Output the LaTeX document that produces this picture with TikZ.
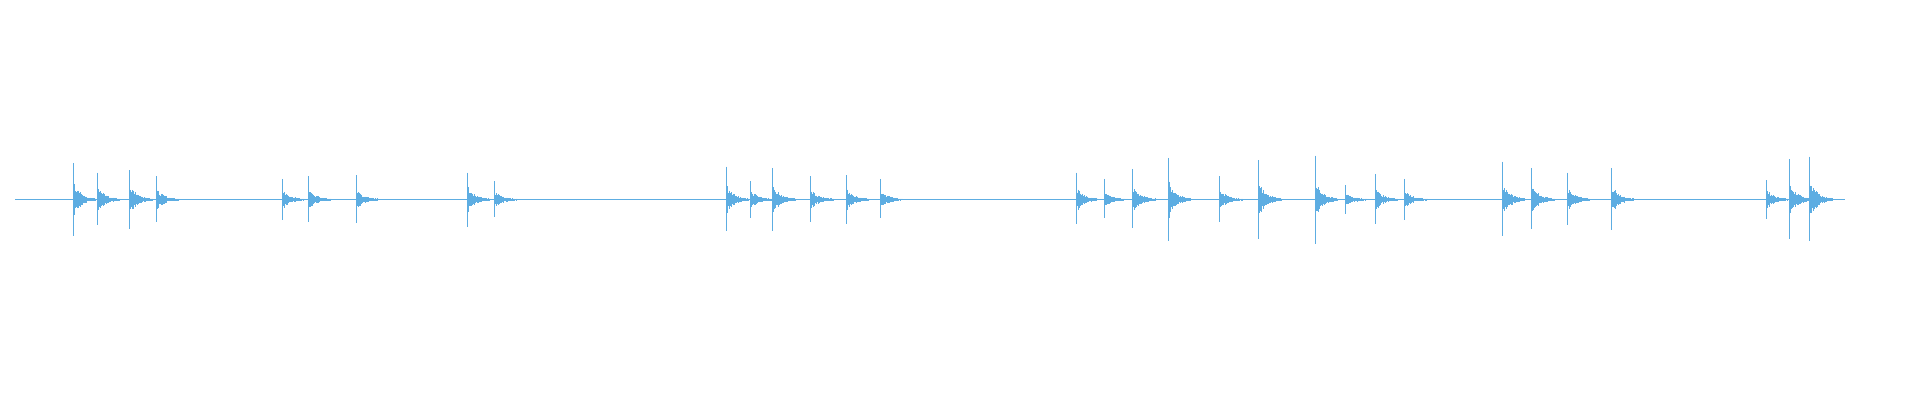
\documentclass[tikz,border=0pt]{standalone}
\definecolor{wavec}{HTML}{5DADE2}
\begin{document}
\begin{tikzpicture}[x=1pt,y=-1pt,wave/.style={draw=wavec,line width=1pt}]
\useasboundingbox (0,0) rectangle (1920,400);
\pgfmathsetseed{7}
\draw[wave] (15,199.6) -- (1845,199.6);
\foreach \x/\u/\d in {60/133/193,80/141/184,106/139/187,128/144/181,231/146/180,252/144/181,291/143/182,382/141/185,404/148/177,593/136/189,613/148/178,631/137/189,662/144/181,691/143/183,719/146/178,879/141/183,902/146/178,925/138/186,954/129/197,996/144/181,1028/131/195,1074/127/199,1099/151/175,1123/142/183,1147/146/180,1227/132/193,1251/137/187,1280/141/184,1316/137/188,1443/147/179,1461/130/195,1478/128/197}{
  \draw[wave] ({\x*1.2245},{\u*1.2245}) -- ({\x*1.2245},{\d*1.2245});
  \foreach \k in {0,...,24}{
    \pgfmathsetmacro\a{(\d-\u)*1.2245*0.22*exp(-\k/8)*(0.5+0.5*rnd)+0.5}
    \draw[wave] ({\x*1.2245+0.9+\k*0.9},{199.6-\a}) -- ++(0,{2*\a});
  }
}
\end{tikzpicture}
\end{document}
